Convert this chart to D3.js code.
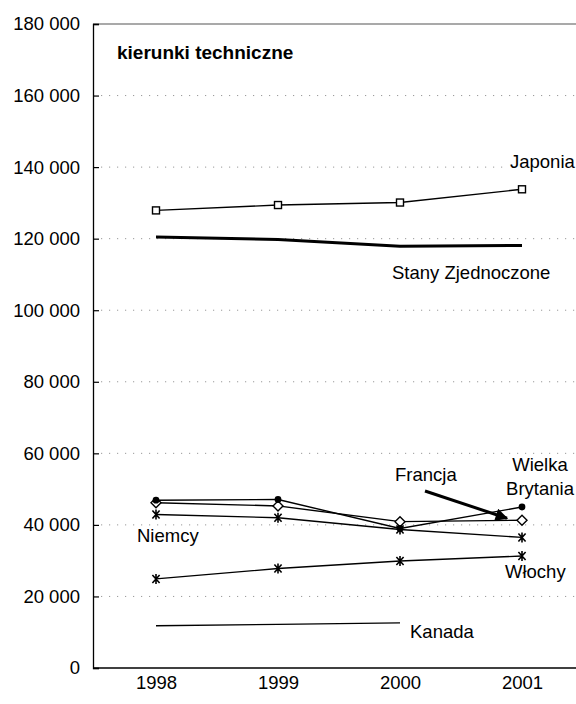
<!DOCTYPE html>
<html>
<head>
<meta charset="utf-8">
<script src="https://cdn.jsdelivr.net/npm/d3@7"></script>
<style>
  html, body { margin: 0; padding: 0; background: #fff; }
  svg { display: block; font-family: "Liberation Sans", Arial, sans-serif; }
</style>
</head>
<body>
<svg id="chart" width="576" height="704"></svg>
<script>
// Graduates of technical fields, selected countries, 1998–2001
const years = ["1998", "1999", "2000", "2001"];
const yTicks = [0, 20000, 40000, 60000, 80000, 100000, 120000, 140000, 160000, 180000];

const japonia = [127900, 129400, 130100, 133800];
const stanyZjednoczone = [120500, 119800, 117900, 118100];
const wielkaBrytania = [46900, 47100, 39000, 45000];
const francja = [46200, 45300, 40900, 41300];
const niemcy = [42900, 42000, 38700, 36500];
const wlochy = [24900, 27800, 29900, 31300];
const kanada = [11800, 12200, 12600, null];

const series = [
  { name: "Japonia", values: japonia, marker: "square", width: 1.4 },
  { name: "Stany Zjednoczone", values: stanyZjednoczone, marker: null, width: 3 },
  { name: "Niemcy", values: niemcy, marker: "star", width: 1.4 },
  { name: "Francja", values: francja, marker: "diamond", width: 1.4 },
  { name: "Wielka Brytania", values: wielkaBrytania, marker: "circle", width: 1.4 },
  { name: "Włochy", values: wlochy, marker: "star", width: 1.4 },
  { name: "Kanada", values: kanada, marker: null, width: 1.4 }
];

const FONT = "'Liberation Sans', Arial, sans-serif";
const svg = d3.select("#chart");
const plotLeft = 93, plotRight = 583, plotTop = 24, plotBottom = 668;

const x = d3.scalePoint().domain(years).range([plotLeft + 2, plotRight]).padding(0.5);
const y = d3.scaleLinear().domain([0, 180000]).range([plotBottom, plotTop]);

const fmt = v => d3.format(",")(v).replace(/,/g, " ");

// gridlines
const grid = svg.append("g");
grid.selectAll("line.g")
  .data(yTicks.filter(t => t > 0 && t < 180000))
  .join("line")
  .attr("x1", plotLeft).attr("x2", 576)
  .attr("y1", d => y(d)).attr("y2", d => y(d))
  .attr("stroke", "#999").attr("stroke-width", 1)
  .attr("stroke-dasharray", "1.2,6.8");
grid.append("line")
  .attr("x1", plotLeft).attr("x2", 576)
  .attr("y1", y(180000)).attr("y2", y(180000))
  .attr("stroke", "#8c8c8c").attr("stroke-width", 1.3);

// left axis with inward ticks
const yAxis = d3.axisLeft(y).tickValues(yTicks).tickSize(-6).tickPadding(13).tickFormat(fmt);
const gy = svg.append("g").attr("transform", `translate(${plotLeft},0)`).call(yAxis);
gy.attr("font-size", null).attr("font-family", null);
gy.select(".domain").attr("stroke", "#000").attr("stroke-width", 1.3);
gy.selectAll(".tick line").attr("stroke", "#000").attr("stroke-width", 1.2);
gy.selectAll(".tick text")
  .attr("font-size", 18.5).attr("fill", "#000").attr("font-family", FONT);

// bottom axis
const xAxis = d3.axisBottom(x).tickSize(0).tickPadding(8);
const gx = svg.append("g").attr("transform", `translate(0,${plotBottom})`).call(xAxis);
gx.attr("font-size", null).attr("font-family", null);
gx.select(".domain").attr("stroke", "#000").attr("stroke-width", 1.3)
  .attr("d", `M${plotLeft},0H576`);
gx.selectAll(".tick text")
  .attr("font-size", 18.5).attr("fill", "#000").attr("font-family", FONT);

// lines
const line = d3.line()
  .defined(d => d.v != null)
  .x(d => x(d.year)).y(d => y(d.v));

const plot = svg.append("g");
series.forEach(s => {
  const pts = years.map((yr, i) => ({ year: yr, v: s.values[i] }));
  plot.append("path")
    .datum(pts)
    .attr("d", line)
    .attr("fill", "none")
    .attr("stroke", "#000")
    .attr("stroke-width", s.width)
    .attr("stroke-linejoin", "round");
});

// markers
const markerG = svg.append("g");
series.forEach(s => {
  if (!s.marker) return;
  const pts = years.map((yr, i) => ({ year: yr, v: s.values[i] })).filter(d => d.v != null);
  const g = markerG.append("g");
  pts.forEach(d => {
    const cx = x(d.year), cy = y(d.v);
    if (s.marker === "square") {
      g.append("rect").attr("x", cx - 3.5).attr("y", cy - 3.5)
        .attr("width", 7).attr("height", 7)
        .attr("fill", "#fff").attr("stroke", "#000").attr("stroke-width", 1.4);
    } else if (s.marker === "circle") {
      g.append("circle").attr("cx", cx).attr("cy", cy).attr("r", 3.4).attr("fill", "#000");
    } else if (s.marker === "diamond") {
      g.append("path")
        .attr("d", `M${cx},${cy - 5}L${cx + 5},${cy}L${cx},${cy + 5}L${cx - 5},${cy}Z`)
        .attr("fill", "#fff").attr("stroke", "#000").attr("stroke-width", 1.4);
    } else if (s.marker === "star") {
      g.append("path")
        .attr("d", `M${cx - 3.6},${cy - 4}L${cx + 3.6},${cy + 4}M${cx - 3.6},${cy + 4}L${cx + 3.6},${cy - 4}` +
                   `M${cx},${cy - 5}V${cy + 5}`)
        .attr("fill", "none").attr("stroke", "#000").attr("stroke-width", 1.6);
    }
  });
});

// series labels with white backing
const labels = [
  { lines: ["Japonia"], x: 510, y: 168, anchor: "start" },
  { lines: ["Stany Zjednoczone"], x: 392, y: 279, anchor: "start" },
  { lines: ["Francja"], x: 395, y: 481, anchor: "start" },
  { lines: ["Wielka", "Brytania"], x: 540, y: 471, anchor: "middle" },
  { lines: ["Niemcy"], x: 137, y: 542, anchor: "start" },
  { lines: ["Włochy"], x: 505, y: 578, anchor: "start" },
  { lines: ["Kanada"], x: 410, y: 638, anchor: "start" }
];
const labG = svg.append("g");
labels.forEach(l => {
  const g = labG.append("g");
  const bg = g.append("rect").attr("fill", "#fff");
  const t = g.append("text")
    .attr("x", l.x).attr("y", l.y)
    .attr("text-anchor", l.anchor)
    .attr("font-size", 18.5).attr("fill", "#000");
  l.lines.forEach((s, i) => {
    t.append("tspan").attr("x", l.x).attr("dy", i === 0 ? 0 : 24).text(s);
  });
  const b = t.node().getBBox();
  bg.attr("x", b.x - 2).attr("y", b.y + 2).attr("width", b.width + 4).attr("height", b.height - 4);
});

// arrow from "Francja" to its 2001 point
const defs = svg.append("defs");
defs.append("marker")
  .attr("id", "arrowhead")
  .attr("viewBox", "0 0 10 10")
  .attr("refX", 9).attr("refY", 5)
  .attr("markerWidth", 5.5).attr("markerHeight", 4.2)
  .attr("markerUnits", "strokeWidth")
  .attr("orient", "auto")
  .append("path").attr("d", "M0,0L10,5L0,10Z").attr("fill", "#000");
svg.append("line")
  .attr("x1", 425).attr("y1", 491)
  .attr("x2", x("2001") - 15).attr("y2", y(francja[3]) - 2)
  .attr("stroke", "#000").attr("stroke-width", 3)
  .attr("marker-end", "url(#arrowhead)");

// title
svg.append("text")
  .attr("x", 117).attr("y", 59)
  .attr("font-size", 19).attr("font-weight", "bold").attr("fill", "#000")
  .text("kierunki techniczne");
</script>
</body>
</html>
